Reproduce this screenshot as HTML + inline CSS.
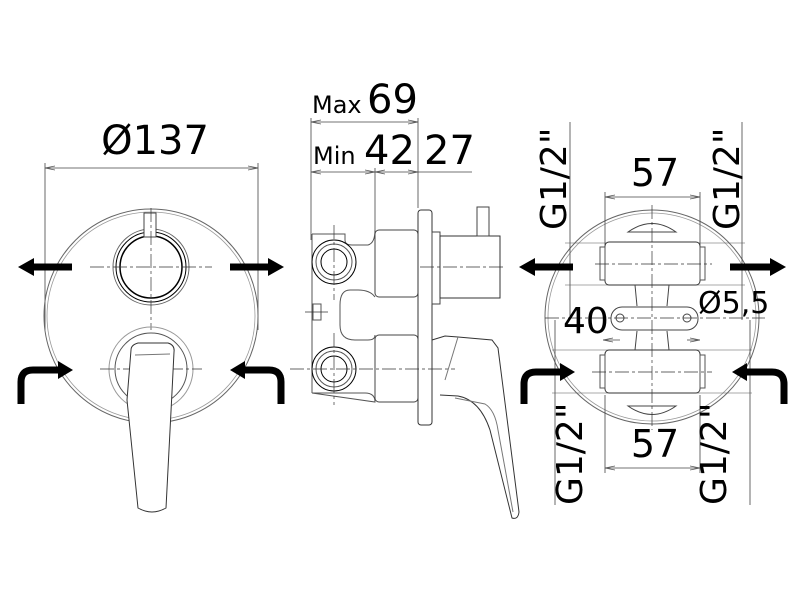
<!DOCTYPE html>
<html><head><meta charset="utf-8"><style>
html,body{margin:0;padding:0;background:#fff}
svg{display:block}
text{font-family:"DejaVu Sans","Liberation Sans",sans-serif;fill:#000}
</style></head><body>
<svg width="800" height="600" viewBox="0 0 800 600" xmlns="http://www.w3.org/2000/svg">
<defs>
<marker id="ah" viewBox="0 0 10 6" refX="10" refY="3" markerWidth="10" markerHeight="6" orient="auto-start-reverse" markerUnits="userSpaceOnUse"><path d="M0,1 L10,3 L0,5" fill="none" stroke="#555" stroke-width="0.8"/></marker>
</defs>
<g fill="none" stroke="#000" stroke-width="1">
<!-- LEFT VIEW -->
<line x1="45" y1="168" x2="258" y2="168" stroke="#444" stroke-width="0.8" marker-start="url(#ah)" marker-end="url(#ah)"/>
<line x1="45" y1="163" x2="45" y2="330" stroke="#444" stroke-width="0.8"/>
<line x1="258" y1="163" x2="258" y2="330" stroke="#444" stroke-width="0.8"/>
<circle cx="151" cy="316" r="107" stroke="#666"/>
<circle cx="151" cy="316" r="104" stroke="#999" stroke-width="0.8"/>
<circle cx="151" cy="267" r="38" stroke="#666"/>
<circle cx="151" cy="267" r="35"/>
<circle cx="151" cy="267" r="31" stroke-width="1.5"/>
<rect x="144" y="213" width="12" height="24" fill="#fff" stroke="#444"/>
<line x1="90" y1="267" x2="212" y2="267" stroke="#333" stroke-width="0.7" stroke-dasharray="14,3,3,3"/>
<line x1="151" y1="208" x2="151" y2="330" stroke="#333" stroke-width="0.7" stroke-dasharray="14,3,3,3"/>
<circle cx="151" cy="369" r="42" stroke="#999"/>
<circle cx="151" cy="369" r="36" stroke="#555"/>
<line x1="100" y1="369" x2="202" y2="369" stroke="#333" stroke-width="0.7" stroke-dasharray="14,3,3,3"/>
<path d="M131,350 Q131,345 138,343 L168,343 Q175,345 174,352 L172,392 L166,508 Q152,516 138,508 L127,400 Z" fill="#fff" stroke="#333"/>
<path d="M135,355 L170,354" stroke="#777"/>
<!-- left arrows -->
<line x1="72" y1="267" x2="32" y2="267" stroke-width="7"/>
<polygon points="18,267 34,258 34,276" fill="#000" stroke="none"/>
<line x1="230" y1="267" x2="270" y2="267" stroke-width="7"/>
<polygon points="284,267 268,258 268,276" fill="#000" stroke="none"/>
<path d="M21,404 L21,382 Q21,370 33,370 L60,370" stroke-width="7"/>
<polygon points="73,370 58,361 58,379" fill="#000" stroke="none"/>
<path d="M281,404 L281,382 Q281,370 269,370 L243,370" stroke-width="7"/>
<polygon points="230,370 245,361 245,379" fill="#000" stroke="none"/>

<!-- MIDDLE VIEW -->
<line x1="311" y1="122" x2="418" y2="122" stroke="#444" stroke-width="0.8" marker-start="url(#ah)" marker-end="url(#ah)"/>
<line x1="311" y1="172" x2="375" y2="172" stroke="#444" stroke-width="0.8" marker-start="url(#ah)" marker-end="url(#ah)"/>
<line x1="375" y1="172" x2="418" y2="172" stroke="#444" stroke-width="0.8" marker-start="url(#ah)" marker-end="url(#ah)"/>
<line x1="418" y1="172" x2="472" y2="172" stroke="#444" stroke-width="0.8"/>
<line x1="311" y1="118" x2="311" y2="240" stroke="#444" stroke-width="0.8"/>
<line x1="375" y1="168" x2="375" y2="230" stroke="#444" stroke-width="0.8"/>
<line x1="418" y1="118" x2="418" y2="208" stroke="#444" stroke-width="0.8"/>
<path d="M312,234 L345,234 L345,240 Q345,245 352,245 L368,245 Q375,243 375,230 M375,297 Q370,290 358,290 L350,290 Q340,290 340,305 L340,325 Q340,340 355,340 L368,340 Q375,340 375,335 M375,402 Q375,393 365,393 L345,393 L312,393 Z" stroke="#555"/>
<line x1="312" y1="234" x2="312" y2="393" stroke="#555"/>
<rect x="313" y="304" width="8" height="16" stroke="#555"/>
<line x1="305" y1="312" x2="328" y2="312" stroke="#333" stroke-width="0.7"/>
<circle cx="334" cy="262" r="22"/><circle cx="334" cy="262" r="18" stroke="#555"/><circle cx="334" cy="262" r="13"/>
<circle cx="334" cy="369" r="22"/><circle cx="334" cy="369" r="18" stroke="#555"/><circle cx="334" cy="369" r="13"/>
<line x1="334" y1="225" x2="334" y2="300" stroke="#333" stroke-width="0.7" stroke-dasharray="14,3,3,3"/>
<line x1="334" y1="333" x2="334" y2="405" stroke="#333" stroke-width="0.7" stroke-dasharray="14,3,3,3"/>
<line x1="290" y1="369" x2="455" y2="369" stroke="#333" stroke-width="0.7" stroke-dasharray="14,3,3,3"/>
<rect x="375" y="230" width="43" height="67" rx="4" stroke="#444"/>
<rect x="375" y="335" width="43" height="67" rx="4" stroke="#444"/>
<rect x="418" y="210" width="14" height="215" rx="3" stroke="#333"/>
<rect x="432" y="232" width="8" height="72" stroke="#444"/>
<rect x="440" y="236" width="60" height="62" stroke="#333"/>
<rect x="477" y="207" width="12" height="29" stroke="#444"/>
<line x1="420" y1="267" x2="505" y2="267" stroke="#333" stroke-width="0.7" stroke-dasharray="14,3,3,3"/>
<path d="M432,340 L445,336 L458,337 L492,340 L498,348 L519,512 Q518,520 512,518 L490,430 Q480,400 458,396 L440,395" stroke="#333"/>
<path d="M458,337 L445,380 M455,398 L485,404 Q495,410 498,430 L513,512" stroke="#777"/>

<!-- RIGHT VIEW -->
<circle cx="652" cy="317" r="107" stroke="#666"/>
<circle cx="652" cy="317" r="104" stroke="#999" stroke-width="0.8"/>
<line x1="605" y1="197" x2="700" y2="197" stroke="#444" stroke-width="0.8" marker-start="url(#ah)" marker-end="url(#ah)"/>
<line x1="605" y1="192" x2="605" y2="245" stroke="#444" stroke-width="0.8"/>
<line x1="700" y1="192" x2="700" y2="245" stroke="#444" stroke-width="0.8"/>
<line x1="605" y1="468" x2="700" y2="468" stroke="#444" stroke-width="0.8" marker-start="url(#ah)" marker-end="url(#ah)"/>
<line x1="605" y1="395" x2="605" y2="473" stroke="#444" stroke-width="0.8"/>
<line x1="700" y1="395" x2="700" y2="473" stroke="#444" stroke-width="0.8"/>
<line x1="570" y1="122" x2="570" y2="320" stroke="#444" stroke-width="0.8"/>
<line x1="742" y1="122" x2="742" y2="320" stroke="#444" stroke-width="0.8"/>
<line x1="555" y1="320" x2="555" y2="505" stroke="#444" stroke-width="0.8"/>
<line x1="750" y1="320" x2="750" y2="505" stroke="#444" stroke-width="0.8"/>
<line x1="565" y1="243" x2="745" y2="243" stroke="#555" stroke-width="0.6"/>
<line x1="565" y1="285" x2="745" y2="285" stroke="#555" stroke-width="0.6"/>
<line x1="552" y1="350" x2="752" y2="350" stroke="#555" stroke-width="0.6"/>
<line x1="552" y1="393" x2="752" y2="393" stroke="#555" stroke-width="0.6"/>
<line x1="603" y1="340" x2="620" y2="340" stroke="#444" stroke-width="0.8" marker-start="url(#ah)"/>
<line x1="687" y1="340" x2="700" y2="340" stroke="#444" stroke-width="0.8" marker-end="url(#ah)"/>
<!-- fittings -->
<path d="M628,232 Q652,215 676,232 Z" stroke="#444"/>
<path d="M628,406 Q652,423 676,406 Z" stroke="#444"/>
<rect x="605" y="242" width="95" height="43" rx="4" fill="#fff" stroke="#333"/>
<rect x="600" y="247" width="5" height="33" stroke="#555"/>
<rect x="700" y="247" width="5" height="33" stroke="#555"/>
<rect x="605" y="350" width="95" height="43" rx="4" fill="#fff" stroke="#333"/>
<rect x="600" y="355" width="5" height="33" stroke="#555"/>
<rect x="700" y="355" width="5" height="33" stroke="#555"/>
<path d="M635,285 L637,306 M669,285 L667,306 M637,331 L635,350 M667,331 L669,350" stroke="#444"/>
<rect x="611" y="307" width="87" height="23" rx="11" stroke="#444"/>
<circle cx="620" cy="318" r="4" stroke="#444"/>
<circle cx="687" cy="318" r="4" stroke="#444"/>
<line x1="545" y1="318" x2="765" y2="318" stroke="#333" stroke-width="0.7" stroke-dasharray="14,3,3,3"/>
<line x1="652" y1="205" x2="652" y2="430" stroke="#333" stroke-width="0.7" stroke-dasharray="14,3,3,3"/>
<line x1="595" y1="264" x2="712" y2="264" stroke="#333" stroke-width="0.7" stroke-dasharray="14,3,3,3"/>
<line x1="592" y1="372" x2="712" y2="372" stroke="#333" stroke-width="0.7" stroke-dasharray="14,3,3,3"/>
<!-- arrows -->
<line x1="573" y1="267" x2="533" y2="267" stroke-width="7"/>
<polygon points="519,267 535,258 535,276" fill="#000" stroke="none"/>
<line x1="730" y1="267" x2="772" y2="267" stroke-width="7"/>
<polygon points="786,267 770,258 770,276" fill="#000" stroke="none"/>
<path d="M524,404 L524,384 Q524,372 536,372 L562,372" stroke-width="7"/>
<polygon points="575,372 560,363 560,381" fill="#000" stroke="none"/>
<path d="M784,404 L784,384 Q784,372 772,372 L745,372" stroke-width="7"/>
<polygon points="732,372 747,363 747,381" fill="#000" stroke="none"/>
</g>
<!-- texts -->
<text x="155" y="154" font-size="40" text-anchor="middle">Ø137</text>
<text x="312" y="113" font-size="24">Max</text>
<text x="367" y="113" font-size="40">69</text>
<text x="313" y="164" font-size="24">Min</text>
<text x="364" y="164" font-size="40">42</text>
<text x="424" y="164" font-size="40">27</text>
<text x="655" y="186" font-size="38" text-anchor="middle">57</text>
<text x="655" y="457" font-size="38" text-anchor="middle">57</text>
<text x="563" y="333" font-size="36">40</text>
<text x="698" y="313" font-size="30">Ø5,5</text>
<text transform="translate(566,230) rotate(-90)" font-size="36">G1/2"</text>
<text transform="translate(739,230) rotate(-90)" font-size="36">G1/2"</text>
<text transform="translate(582,505) rotate(-90)" font-size="36">G1/2"</text>
<text transform="translate(726,505) rotate(-90)" font-size="36">G1/2"</text>
</svg>
</body></html>
